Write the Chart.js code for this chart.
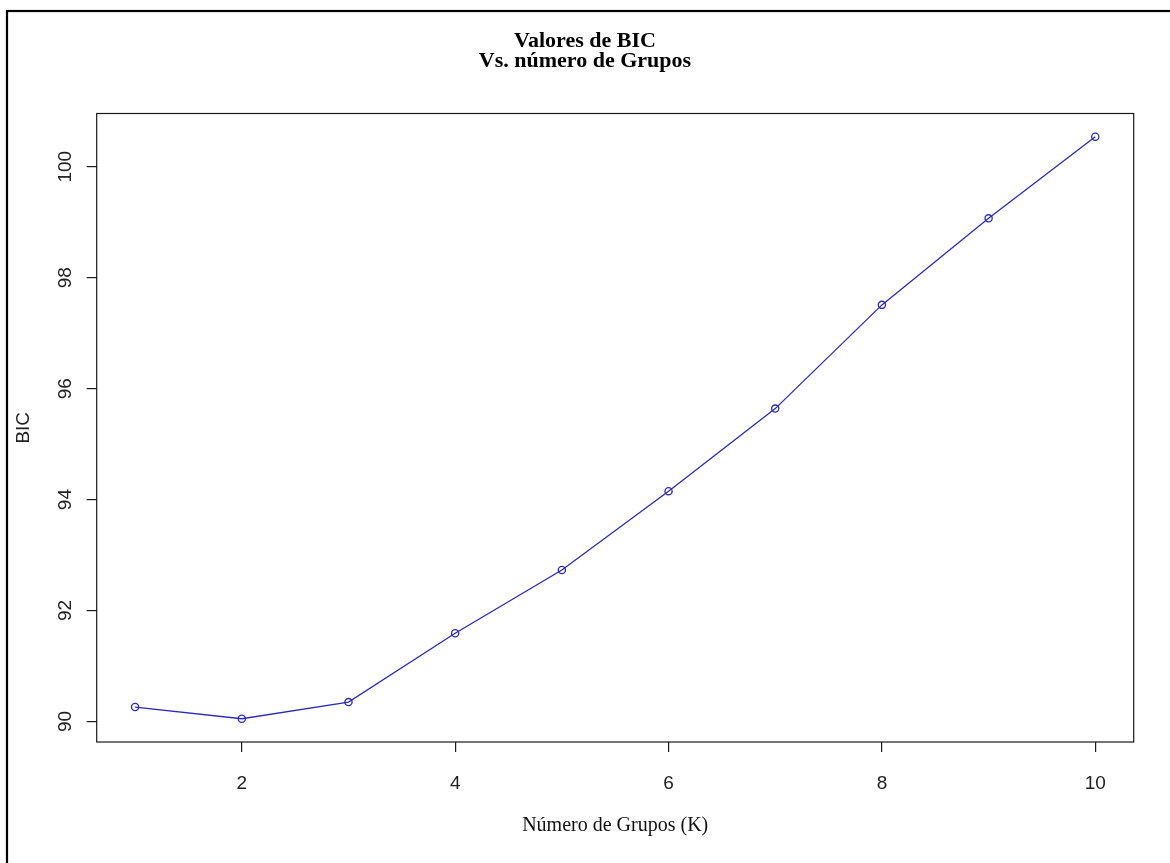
<!DOCTYPE html>
<html>
<head>
<meta charset="utf-8">
<script src="https://cdn.jsdelivr.net/npm/chart.js@4/dist/chart.umd.min.js"></script>
<style>
  html, body { margin: 0; padding: 0; background: #ffffff; }
  #wrap { width: 1170px; height: 863px; }
</style>
</head>
<body>
<div id="wrap"><canvas id="c" width="1170" height="863"></canvas></div>
<script>
// Number of clusters K and the BIC obtained for each
const groups = [1, 2, 3, 4, 5, 6, 7, 8, 9, 10];
const bicValues = [90.26, 90.05, 90.35, 91.59, 92.73, 94.15, 95.64, 97.51, 99.07, 100.54];

// Tick positions on each axis
const xTicks = [2, 4, 6, 8, 10];
const yTicks = [90, 92, 94, 96, 98, 100];

const titleLines = ['Valores de BIC', 'Vs. número de Grupos'];
const xTitle = 'Número de Grupos (K)';
const yTitle = 'BIC';

// Axis limits padded by 4% of the data range on each side
function paddedRange(vals) {
  const lo = Math.min(...vals), hi = Math.max(...vals);
  const pad = (hi - lo) * 0.04;
  return [lo - pad, hi + pad];
}
const [xMin, xMax] = paddedRange(groups);
const [yMin, yMax] = paddedRange(bicValues);

const points = groups.map((k, i) => ({ x: k, y: bicValues[i] }));

const LINE_BLUE = '#2b2bb8';
const SANS = '"Liberation Sans", Arial, sans-serif';
const SERIF = '"Liberation Serif", "Times New Roman", serif';

// Frame around the plotting region plus the outer figure border
const framePlugin = {
  id: 'frame',
  beforeDraw(chart) {
    const ctx = chart.ctx;
    ctx.save();
    ctx.fillStyle = '#ffffff';
    ctx.fillRect(0, 0, chart.width, chart.height);
    ctx.restore();
  },
  afterDraw(chart) {
    const { ctx, chartArea: a } = chart;
    ctx.save();
    ctx.strokeStyle = '#1a1a1a';
    ctx.lineWidth = 1.2;
    ctx.strokeRect(a.left, a.top, a.right - a.left, a.bottom - a.top);
    ctx.strokeStyle = '#000000';
    ctx.lineWidth = 2.2;
    ctx.strokeRect(7, 11, chart.width + 50, chart.height + 50);
    ctx.restore();
  }
};

const toTicks = list => scale => { scale.ticks = list.map(v => ({ value: v })); };

new Chart(document.getElementById('c'), {
  type: 'line',
  data: {
    datasets: [{
      data: points,
      borderColor: LINE_BLUE,
      borderWidth: 1.3,
      pointRadius: 3.6,
      pointHoverRadius: 3.6,
      pointBorderWidth: 1.3,
      pointBorderColor: LINE_BLUE,
      pointBackgroundColor: 'rgba(255,255,255,0)',
      tension: 0,
      fill: false
    }]
  },
  options: {
    responsive: false,
    animation: false,
    events: [],
    layout: { padding: { left: 0, right: 0, top: 0, bottom: 0 } },
    plugins: {
      legend: { display: false },
      tooltip: { enabled: false },
      title: {
        display: true,
        text: titleLines,
        color: '#000000',
        font: { family: SERIF, size: 22, weight: 'bold', lineHeight: '20px' },
        padding: { top: 31, bottom: 42.5 }
      }
    },
    scales: {
      x: {
        type: 'linear',
        position: 'bottom',
        min: xMin,
        max: xMax,
        afterBuildTicks: toTicks(xTicks),
        afterFit: s => { s.height = 121; },
        grid: { display: true, drawOnChartArea: false, drawTicks: true, tickLength: 10, color: '#1a1a1a', lineWidth: 1.2 },
        border: { display: false },
        ticks: {
          color: '#222222',
          font: { family: SANS, size: 19 },
          padding: 20,
          maxRotation: 0,
          minRotation: 0,
          callback: v => String(v)
        },
        title: {
          display: true,
          text: xTitle,
          color: '#111111',
          font: { family: SERIF, size: 20 },
          padding: { top: 0, bottom: 25 }
        }
      },
      y: {
        type: 'linear',
        position: 'left',
        min: yMin,
        max: yMax,
        afterBuildTicks: toTicks(yTicks),
        afterFit: s => { s.width = 96.7; },
        grid: { display: true, drawOnChartArea: false, drawTicks: true, tickLength: 10, color: '#1a1a1a', lineWidth: 1.2 },
        border: { display: false },
        ticks: {
          color: '#222222',
          font: { family: SANS, size: 19 },
          padding: 5,
          minRotation: 90,
          maxRotation: 90,
          crossAlign: 'center',
          callback: v => String(v)
        },
        title: {
          display: true,
          text: yTitle,
          color: '#222222',
          font: { family: SANS, size: 19 },
          padding: { top: 12, bottom: 0 }
        }
      },
      yRight: {
        type: 'linear',
        position: 'right',
        display: true,
        min: yMin,
        max: yMax,
        afterFit: s => { s.width = 36.3; },
        grid: { display: false },
        border: { display: false },
        ticks: { display: false }
      }
    }
  },
  plugins: [framePlugin]
});
</script>
</body>
</html>
